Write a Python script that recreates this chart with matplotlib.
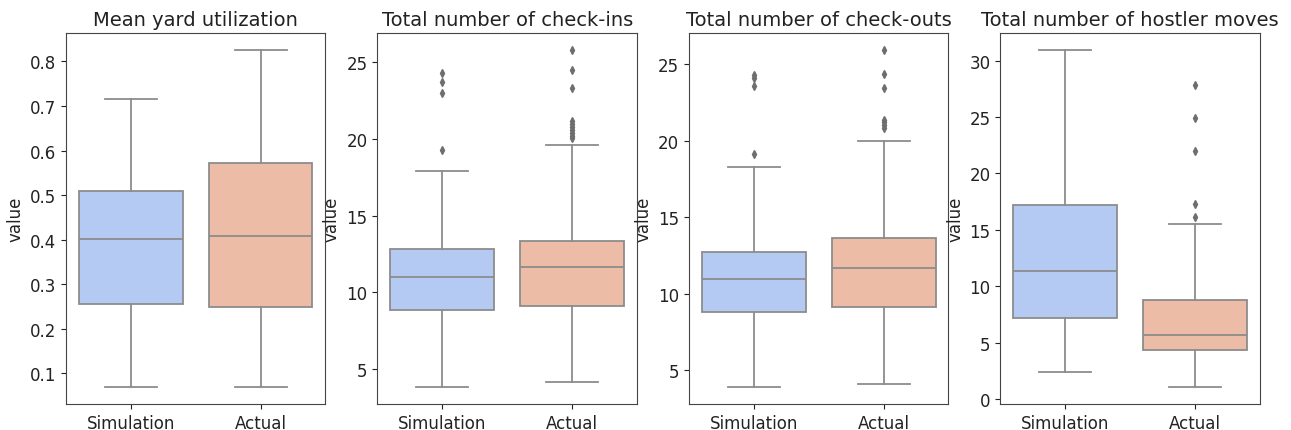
import colorsys
import matplotlib
matplotlib.use("Agg")
import matplotlib.pyplot as plt

# panels and groups
titles = ["Mean yard utilization", "Total number of check-ins",
          "Total number of check-outs", "Total number of hostler moves"]
groups = ["Simulation", "Actual"]

# box stats, [simulation, actual] per panel
medians = [[0.402, 0.409], [10.97, 11.66], [10.95, 11.71], [11.37, 5.70]]
q1s = [[0.256, 0.248], [8.81, 9.10], [8.79, 9.16], [7.17, 4.37]]
q3s = [[0.510, 0.571], [12.81, 13.34], [12.76, 13.67], [17.18, 8.80]]
whis_lo = [[0.069, 0.068], [3.78, 4.10], [3.89, 4.11], [2.45, 1.07]]
whis_hi = [[0.715, 0.826], [17.93, 19.62], [18.29, 20.00], [30.94, 15.53]]
fliers = [
    [[], []],
    [[24.32, 23.75, 23.0, 19.25],
     [25.82, 24.48, 23.34, 21.2, 21.0, 20.8, 20.6, 20.4, 20.2, 20.05]],
    [[24.26, 24.08, 23.56, 19.14],
     [25.93, 24.33, 23.43, 21.36, 21.2, 21.0, 20.85]],
    [[], [27.81, 24.89, 21.96, 17.3, 16.12]],
]

# coolwarm pair, desaturated like seaborn does for boxes
cmap = plt.get_cmap("coolwarm")
colors = []
for v in (1 / 3, 2 / 3):
    r, g, b, _ = cmap(v)
    h, l, s = colorsys.rgb_to_hls(r, g, b)
    colors.append(colorsys.hls_to_rgb(h, l, s * 0.75))
gray = "#8c8c8c"
flier_gray = "#6e6e6e"

plt.rcParams["text.color"] = "#222222"
plt.rcParams["axes.labelcolor"] = "#222222"
plt.rcParams["xtick.color"] = "#222222"
plt.rcParams["ytick.color"] = "#222222"

fig, axes = plt.subplots(1, 4, figsize=(12.91, 4.31), dpi=100)
fig.subplots_adjust(left=0.051, right=0.976, bottom=0.06, top=0.921, wspace=0.2)

for i, ax in enumerate(axes):
    stats = []
    for j in range(2):
        stats.append(dict(med=medians[i][j], q1=q1s[i][j], q3=q3s[i][j],
                          whislo=whis_lo[i][j], whishi=whis_hi[i][j],
                          fliers=fliers[i][j], label=groups[j]))
    bp = ax.bxp(stats, positions=[0, 1], widths=0.8, patch_artist=True,
                boxprops=dict(edgecolor=gray, linewidth=1.3),
                whiskerprops=dict(color=gray, linewidth=1.3),
                capprops=dict(color=gray, linewidth=1.3),
                medianprops=dict(color=gray, linewidth=1.3),
                flierprops=dict(marker="d", markersize=4, markerfacecolor=flier_gray,
                                markeredgecolor=flier_gray, linestyle="none"))
    for patch, c in zip(bp["boxes"], colors):
        patch.set_facecolor(c)
    ax.set_xlim(-0.5, 1.5)
    ax.set_title(titles[i], fontsize=14)
    ax.set_ylabel("value", fontsize=12)
    ax.tick_params(labelsize=12)
    for sp in ax.spines.values():
        sp.set_color("#444444")

fig.savefig("out.png")
